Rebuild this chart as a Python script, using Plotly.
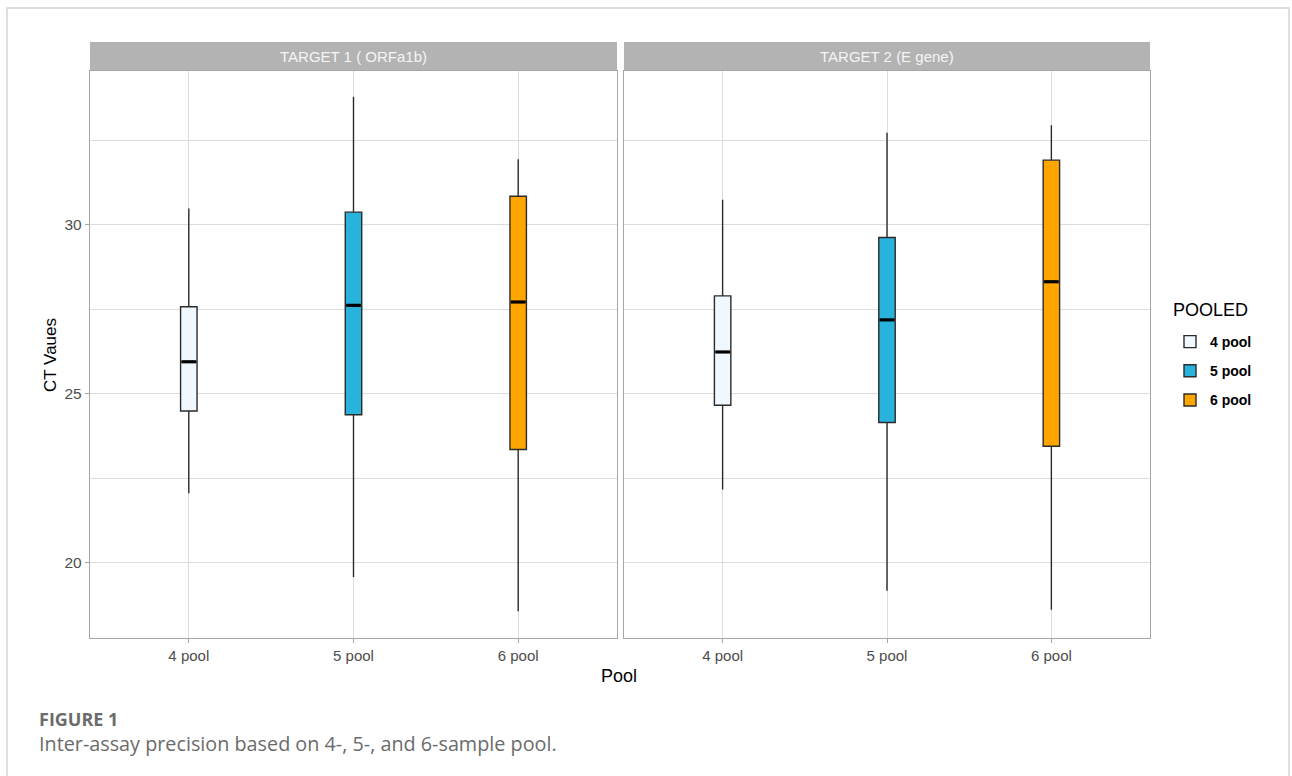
import plotly.graph_objects as go

W, H = 1292, 776

pools = ["4 pool", "5 pool", "6 pool"]
positions = [1, 2, 3]
targets = ["TARGET 1 ( ORFa1b)", "TARGET 2 (E gene)"]
fills = ["#F0F8FF", "#29B3DC", "#FFA500"]

# Five-number summaries per pool (whisker low, Q1, median, Q3, whisker high)
t1_low = [22.06, 19.58, 18.56]
t1_q1 = [24.49, 24.38, 23.35]
t1_med = [25.95, 27.62, 27.72]
t1_q3 = [27.58, 30.38, 30.85]
t1_high = [30.49, 33.80, 31.95]

t2_low = [22.17, 19.17, 18.61]
t2_q1 = [24.66, 24.15, 23.45]
t2_med = [26.24, 27.19, 28.32]
t2_q3 = [27.90, 29.63, 31.92]
t2_high = [30.75, 32.73, 32.95]

y_ticks = [20, 25, 30]
y_minor = [22.5, 27.5, 32.5]

panels = [
    (t1_low, t1_q1, t1_med, t1_q3, t1_high),
    (t2_low, t2_q1, t2_med, t2_q3, t2_high),
]

BOX_W = 0.1
LINE = "#2B2B2B"
GRID = "#DCDCDC"
BORDER = "#A6A6A6"
FONT = "Liberation Sans"


def px_x(v):
    return v / W


def px_y(v):
    return 1 - v / H


fig = go.Figure()

for p, (lo, q1, med, q3, hi) in enumerate(panels):
    xa = "x" if p == 0 else "x2"
    ya = "y" if p == 0 else "y2"
    for i, name in enumerate(pools):
        fig.add_trace(go.Box(
            x=[positions[i]], q1=[q1[i]], median=[med[i]], q3=[q3[i]],
            lowerfence=[lo[i]], upperfence=[hi[i]],
            width=BOX_W, whiskerwidth=0,
            fillcolor=fills[i], line=dict(color=LINE, width=1.4),
            name=name, legendgroup=name, showlegend=(p == 0),
            xaxis=xa, yaxis=ya, boxpoints=False, hoverinfo="skip",
        ))
    # thicker median bars
    for i in range(len(pools)):
        fig.add_trace(go.Scatter(
            x=[positions[i] - BOX_W / 2 + 0.006, positions[i] + BOX_W / 2 - 0.006],
            y=[med[i], med[i]], mode="lines",
            line=dict(color="#000000", width=3.2),
            showlegend=False, hoverinfo="skip", xaxis=xa, yaxis=ya,
        ))

# panel geometry (pixels)
L1, R1 = 90, 617
L2, R2 = 624, 1150
TOP, BOT = 71, 638
STRIP_TOP = 42

y_range = [17.77, 34.56]
y_dom = [px_y(BOT), px_y(TOP)]

xcommon = dict(
    range=[0.4, 3.6], tickvals=positions, ticktext=pools,
    showgrid=True, gridcolor=GRID, gridwidth=1, zeroline=False,
    showline=True, mirror=True, linecolor=BORDER, linewidth=1.3,
    ticks="outside", ticklen=4, tickcolor=BORDER,
    tickfont=dict(family=FONT, size=15, color="#4D4D4D"),
)
ycommon = dict(
    range=y_range, tickmode="array", tickvals=y_ticks,
    showgrid=True, gridcolor=GRID, gridwidth=1, zeroline=False,
    showline=True, mirror=True, linecolor=BORDER, linewidth=1.3,
    minor=dict(tickmode="array", tickvals=y_minor, showgrid=True,
               gridcolor=GRID, gridwidth=1, ticklen=0),
    domain=y_dom,
)

fig.update_layout(
    width=W, height=H,
    margin=dict(l=0, r=0, t=0, b=0),
    paper_bgcolor="white", plot_bgcolor="white",
    font=dict(family=FONT, color="#000000"),
    showlegend=True,
    xaxis=dict(domain=[px_x(L1), px_x(R1)], anchor="y", **xcommon),
    xaxis2=dict(domain=[px_x(L2), px_x(R2)], anchor="y2", **xcommon),
    yaxis=dict(anchor="x", ticks="outside", ticklen=4, tickcolor=BORDER,
               tickfont=dict(family=FONT, size=15.5, color="#4D4D4D"), **ycommon),
    yaxis2=dict(anchor="x2", showticklabels=False, ticks="", **ycommon),
    legend=dict(
        x=px_x(1170), y=px_y(326), xanchor="left", yanchor="top",
        font=dict(family=FONT, size=14, color="#000000", weight="bold"),
        bgcolor="rgba(0,0,0,0)", tracegroupgap=8,
    ),
)

shapes = []
annotations = []

# facet strips
for (l, r), label in zip([(L1, R1), (L2, R2)], targets):
    shapes.append(dict(type="rect", xref="paper", yref="paper",
                       x0=px_x(l), x1=px_x(r), y0=px_y(TOP), y1=px_y(STRIP_TOP),
                       fillcolor="#B3B3B3", line=dict(width=0), layer="below"))
    annotations.append(dict(xref="paper", yref="paper",
                            x=px_x((l + r) / 2), y=px_y((TOP + STRIP_TOP) / 2),
                            text=label, showarrow=False, xanchor="center", yanchor="middle",
                            font=dict(family=FONT, size=15, color="#F5F5F5")))

# outer frame of the figure card
shapes.append(dict(type="path", xref="paper", yref="paper",
                   path=f"M {px_x(7)},-0.1 L {px_x(7)},{px_y(8)} L {px_x(1289)},{px_y(8)} L {px_x(1289)},-0.1",
                   line=dict(color="#D0D0D0", width=1.3)))

# legend title
annotations.append(dict(xref="paper", yref="paper", x=px_x(1171), y=px_y(310),
                        text="POOLED", showarrow=False, xanchor="left", yanchor="middle",
                        font=dict(family=FONT, size=18, color="#000000")))

# axis titles
annotations.append(dict(xref="paper", yref="paper", x=px_x(51), y=px_y(355),
                        text="CT Vaues", textangle=-90, showarrow=False,
                        xanchor="center", yanchor="middle",
                        font=dict(family=FONT, size=17, color="#000000")))
annotations.append(dict(xref="paper", yref="paper", x=px_x(619), y=px_y(676),
                        text="Pool", showarrow=False, xanchor="center", yanchor="middle",
                        font=dict(family=FONT, size=18, color="#000000")))

# caption
annotations.append(dict(xref="paper", yref="paper", x=px_x(37), y=px_y(719),
                        text="<b>FIGURE 1</b>", showarrow=False, xanchor="left", yanchor="middle",
                        font=dict(family="Open Sans", size=18, color="#6B6B6B")))
annotations.append(dict(xref="paper", yref="paper", x=px_x(37), y=px_y(743),
                        text="Inter-assay precision based on 4-, 5-, and 6-sample pool.",
                        showarrow=False, xanchor="left", yanchor="middle",
                        font=dict(family="Open Sans", size=19.8, color="#6B6B6B")))

fig.update_layout(shapes=shapes, annotations=annotations)

fig.write_html("out.html")
